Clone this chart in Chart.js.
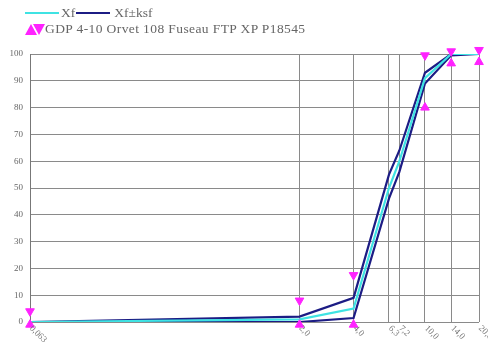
<!DOCTYPE html>
<html><head><meta charset="utf-8">
<script src="https://cdn.jsdelivr.net/npm/chart.js@4/dist/chart.umd.min.js"></script>
<style>
html,body{margin:0;padding:0;background:#fff;}
#wrap{position:relative;width:488px;height:346px;}
#legend{position:absolute;left:0;top:0;width:488px;font-family:"Liberation Serif","DejaVu Serif",serif;font-size:13.5px;color:#666;}
.row{position:absolute;white-space:nowrap;display:flex;align-items:center;height:16px;}
.ln{display:inline-block;width:34px;height:2px;}
.tri{display:inline-block;width:0;height:0;border-left:6px solid transparent;border-right:6px solid transparent;}
</style></head>
<body>
<div id="wrap">
<canvas id="c" width="488" height="346"></canvas>
<div id="legend">
 <div class="row" style="left:25px;top:5px;"><span class="ln" style="background:#3fe3e3"></span><span style="margin:0 1px 0 2px">Xf</span><span class="ln" style="background:#1c1c84"></span><span style="margin-left:4px">Xf±ksf</span></div>
 <div class="row" style="left:25px;top:21px;"><span class="tri" style="border-bottom:11px solid #ff22ff;margin-right:-4px"></span><span class="tri" style="border-top:11px solid #ff22ff;margin-right:0px"></span><span style="letter-spacing:0.4px">GDP 4-10 Orvet 108 Fuseau FTP XP P18545</span></div>
</div>
</div>
<script>
const sieves = [0.063, 2, 4, 6.3, 7.2, 10, 14, 20];
const sieveLabels = ["0,063", "2,0", "4,0", "6,3", "7,2", "10,0", "14,0", "20,0"];
const xf =      [0, 1, 5, 50, 60, 91, 100, 100];
const xfUpper = [0, 2, 9, 55, 64, 93, 100, 100];
const xfLower = [0, 0, 1.5, 46, 56, 89, 99.5, 100];
const specSieves = [0.063, 2, 4, 10, 14, 20];
const specMax = [4, 8, 17.5, 99.5, 101, 101.5];
const specMin = [-1, -1, -1, 80, 96.5, 97];
const yTicks = [0,10,20,30,40,50,60,70,80,90,100];

const pts = (xs, ys) => xs.map((x,i)=>({x:x, y:ys[i]}));

const xLabelPlugin = {
  id:'xlabels',
  afterDraw(chart){
    const sc = chart.scales.x, ctx = chart.ctx;
    ctx.save();
    ctx.fillStyle = '#777';
    ctx.font = '9px "Liberation Serif", serif';
    ctx.textAlign = 'left';
    ctx.textBaseline = 'middle';
    sieves.forEach((v,i)=>{
      const px = sc.getPixelForValue(v);
      ctx.save();
      ctx.translate(px+1, chart.chartArea.bottom+5);
      ctx.rotate(Math.PI/4);
      ctx.fillText(sieveLabels[i], 0, 0);
      ctx.restore();
    });
    ctx.restore();
  }
};

new Chart(document.getElementById('c'), {
  type:'line',
  data:{datasets:[
    {label:'Xf+ksf', data:pts(sieves,xfUpper), borderColor:'#1c1c84', borderWidth:2.2, pointRadius:0, tension:0, order:3},
    {label:'Xf-ksf', data:pts(sieves,xfLower), borderColor:'#1c1c84', borderWidth:2.2, pointRadius:0, tension:0, order:2},
    {label:'Xf', data:pts(sieves,xf), borderColor:'#3fe3e3', borderWidth:2.2, pointRadius:0, tension:0, order:1},
    {label:'max', data:pts(specSieves,specMax), showLine:false, pointStyle:'triangle', rotation:180, pointRadius:5, backgroundColor:'#ff22ff', borderColor:'#ff22ff', clip:false, order:0},
    {label:'min', data:pts(specSieves,specMin), showLine:false, pointStyle:'triangle', pointRadius:5, backgroundColor:'#ff22ff', borderColor:'#ff22ff', clip:false, order:0}
  ]},
  options:{
    responsive:false, animation:false, events:[],
    layout:{padding:{top:54, right:9, bottom:24, left:0}},
    plugins:{legend:{display:false}, tooltip:{enabled:false}},
    scales:{
      x:{type:'logarithmic', min:0.063, max:20,
        afterBuildTicks(s){ s.ticks = sieves.map(v=>({value:v})); },
        afterFit(s){ s.height = 0; },
        ticks:{display:false},
        grid:{color:'#8a8a8a', lineWidth:1, drawTicks:false},
        border:{display:false}
      },
      y:{min:0, max:100,
        afterBuildTicks(s){ s.ticks = yTicks.map(v=>({value:v})); },
        afterFit(s){ s.width = 30; },
        ticks:{color:'#666', font:{family:'"Liberation Serif", serif', size:9}, padding:7},
        grid:{color:'#8a8a8a', lineWidth:1, drawTicks:false},
        border:{color:'#777', width:1}
      }
    }
  },
  plugins:[xLabelPlugin]
});
</script>
</body></html>
